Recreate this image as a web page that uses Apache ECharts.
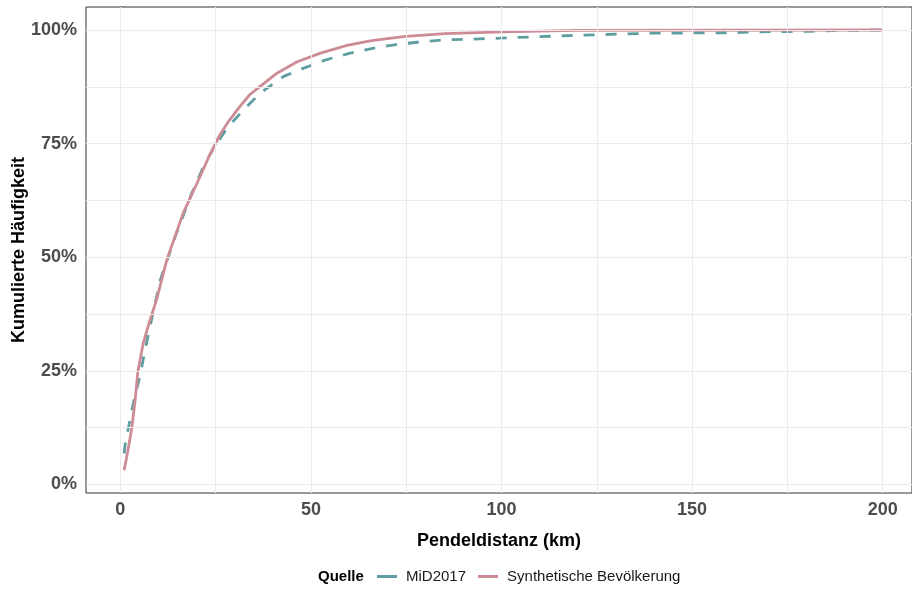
<!DOCTYPE html>
<html>
<head>
<meta charset="utf-8">
<script src="https://cdn.jsdelivr.net/npm/echarts@6/dist/echarts.min.js"></script>
<style>
html,body{margin:0;padding:0;background:#fff;}
#chart{width:912px;height:589px;}
</style>
</head>
<body>
<div id="chart"></div>
<script>
// Data (distance km, cumulative %)
const midKm  = [1.0, 1.3, 2.1, 3.4, 5.2, 6.5, 7.8, 10.5, 14.4, 18.7, 21.8, 24.5, 28.0, 32.4, 36.7, 42.9, 48.1, 54.2, 60.3, 66.5, 72.3, 77.9, 84.6, 96.4, 108.7, 119.0, 127.2, 139.5, 160.0, 168.3, 180.6, 186.8, 200.0];
const midPct = [6.8, 9.0, 12.3, 17.8, 24.0, 29.6, 34.7, 45.0, 54.5, 64.0, 69.9, 74.0, 78.4, 82.5, 86.1, 89.8, 91.6, 93.5, 94.9, 96.0, 96.8, 97.3, 97.8, 98.1, 98.5, 98.8, 99.0, 99.3, 99.4, 99.6, 99.7, 99.85, 100.0];
const synKm  = [1.0, 1.7, 3.0, 3.9, 4.6, 6.0, 7.8, 9.5, 12.2, 16.5, 20.9, 23.5, 26.2, 28.5, 31.5, 34.0, 36.7, 41.1, 46.4, 52.5, 59.5, 65.6, 70.0, 74.9, 85.1, 100.5, 119.5, 120.0, 200.0];
const synPct = [3.1, 6.1, 12.3, 18.6, 24.8, 31.0, 36.2, 40.6, 49.4, 59.7, 67.7, 72.6, 77.0, 80.0, 83.3, 85.8, 87.6, 90.5, 93.0, 94.9, 96.6, 97.6, 98.1, 98.6, 99.2, 99.6, 99.9, 100.0, 100.0];

const xTicks = [0, 50, 100, 150, 200];
const xGrid  = [0, 25, 50, 75, 100, 125, 150, 175, 200];
const yTicks = [0, 25, 50, 75, 100];
const yGrid  = [0, 12.5, 25, 37.5, 50, 62.5, 75, 87.5, 100];

const seriesNames = ['MiD2017', 'Synthetische Bevölkerung'];
const colors = ['#5F9EA0', '#CD8C95'];

const zip = (a, b) => a.map((v, i) => [v, b[i]]);

const gridColor = '#EBEBEB';
const chart = echarts.init(document.getElementById('chart'), null, {renderer: 'canvas'});
chart.setOption({
  animation: false,
  backgroundColor: '#ffffff',
  textStyle: {fontFamily: 'Liberation Sans, Arial, sans-serif'},
  grid: {left: 86, top: 7, right: 0, bottom: 96, containLabel: false, outerBoundsMode: 'none',
         show: true, borderColor: '#333333', borderWidth: 1, backgroundColor: 'transparent'},
  xAxis: {
    type: 'value', min: -9, max: 207.7,
    name: 'Pendeldistanz (km)', nameLocation: 'middle', nameGap: 39, nameMoveOverlap: false,
    nameTextStyle: {fontSize: 18, fontWeight: 'bold', color: '#000', fontFamily: 'Liberation Sans'},
    axisLine: {show: true, lineStyle: {color: '#333', width: 1}},
    axisTick: {show: true, length: 5, customValues: xTicks, lineStyle: {color: '#333'}},
    axisLabel: {customValues: xTicks, fontSize: 18, fontWeight: 'bold', color: '#4D4D4D', margin: 8, fontFamily: 'Liberation Sans'},
    splitLine: {show: false}
  },
  yAxis: {
    type: 'value', min: -1.9, max: 105.06,
    name: 'Kumulierte Häufigkeit', nameLocation: 'middle', nameGap: 58, nameRotate: 90, nameMoveOverlap: false,
    nameTextStyle: {fontSize: 18, fontWeight: 'bold', color: '#000', fontFamily: 'Liberation Sans'},
    axisLine: {show: true, lineStyle: {color: '#333', width: 1}},
    axisTick: {show: true, length: 5, customValues: yTicks, lineStyle: {color: '#333'}},
    axisLabel: {customValues: yTicks, formatter: '{value}%', fontSize: 18, fontWeight: 'bold', color: '#4D4D4D', margin: 9, fontFamily: 'Liberation Sans'},
    splitLine: {show: false}
  },
  legend: {
    left: 372, top: 564, itemWidth: 20, itemHeight: 3, itemGap: 12,
    icon: 'rect',
    data: seriesNames,
    textStyle: {fontSize: 15, color: '#1A1A1A', padding: [0, 0, 0, 4], fontFamily: 'Liberation Sans'}
  },
  graphic: [{
    type: 'text', left: 318, top: 569,
    style: {text: 'Quelle', font: 'bold 15px "Liberation Sans", Arial, sans-serif', fill: '#000'}
  }],
  series: [
    {
      name: 'gridlines', type: 'line', data: [], z: 1, silent: true,
      markLine: {
        silent: true, symbol: 'none', label: {show: false}, animation: false,
        lineStyle: {color: gridColor, width: 1, type: 'solid'},
        data: xGrid.map(v => ({xAxis: v})).concat(yGrid.map(v => ({yAxis: v})))
      }
    },
    {
      name: seriesNames[0], type: 'line', data: zip(midKm, midPct), z: 3,
      showSymbol: false, symbol: 'none',
      lineStyle: {color: colors[0], width: 2.8, type: [11, 11], cap: 'butt'},
      itemStyle: {color: colors[0]}
    },
    {
      name: seriesNames[1], type: 'line', data: zip(synKm, synPct), z: 4,
      showSymbol: false, symbol: 'none',
      lineStyle: {color: colors[1], width: 2.8, type: 'solid'},
      itemStyle: {color: colors[1]}
    }
  ]
});
</script>
</body>
</html>
